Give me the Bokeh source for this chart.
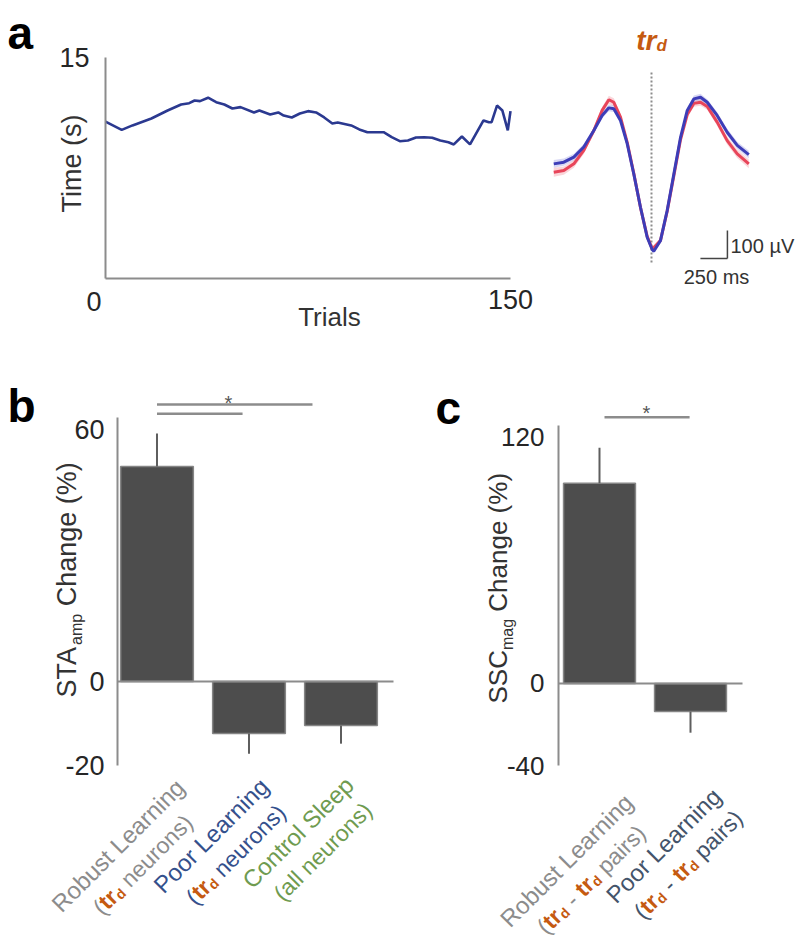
import math
from bokeh.plotting import figure
from bokeh.models import Range1d, FixedTicker, Label, LinearAxis
from bokeh.layouts import column, row
from bokeh.embed import file_html
from bokeh.resources import INLINE

FONT = "Liberation Sans"
INK = "#333333"
AXIS_GRAY = "#8c8c8c"
ORANGE = "#c55a11"

# ---------------- panel a (left): time per trial ----------------
trial = [0, 6, 10, 17, 23, 28, 31, 33, 35, 38, 41, 44, 47, 50, 55, 57, 61, 64, 66, 69,
         72, 75, 78, 81, 84, 86, 91, 94, 97, 103, 106, 109, 112, 115, 118, 121, 124, 127, 129, 132,
         135, 140, 142, 143, 145, 147, 149, 150]
time_s = [10.65, 10.09, 10.39, 10.86, 11.40, 11.81, 11.90, 12.08, 12.04, 12.27, 11.97, 11.81, 11.54, 11.63, 11.27, 11.40, 11.13, 11.27, 11.06, 10.93,
          11.20, 11.36, 11.27, 10.93, 10.52, 10.59, 10.39, 10.12, 9.93, 9.93, 9.59, 9.32, 9.37, 9.57, 9.59, 9.55, 9.37, 9.25, 9.10, 9.64,
          9.10, 10.73, 10.61, 10.61, 11.74, 11.40, 10.05, 11.36]
a_xticks = [0, 150]
a_yticks = [15]

# ---------------- panel a (right): spike waveforms ----------------
wave_t = [-905, -812, -719, -627, -534, -457, -395, -349, -287, -225, -164, -102, -40, 6, 21,
          83, 145, 207, 269, 331, 392, 454, 516, 608, 701, 794, 901]          # ms
wave_blue = [-12, -6, 12, 48, 107, 161, 188, 185, 143, 60, -48, -167, -274, -318, -324,
             -286, -179, -48, 83, 179, 220, 226, 208, 161, 101, 54, 21]        # uV
wave_red = [-42, -36, -12, 36, 107, 179, 217, 208, 155, 65, -46, -168, -271, -315, -312,
            -286, -182, -54, 75, 164, 204, 208, 193, 137, 71, 24, -12]         # uV
sem_blue = [14, 13, 12, 11, 10, 10, 12, 12, 10, 9, 9, 9, 9, 9, 9, 9, 9, 9, 9, 10, 12, 12, 11, 11, 12, 13, 14]
sem_red = [16, 15, 14, 13, 12, 12, 14, 14, 12, 11, 10, 10, 10, 10, 10, 10, 10, 10, 10, 11, 12, 12, 12, 13, 14, 15, 16]
SCALE_T = 250   # ms
SCALE_V = 100   # uV

# ---------------- panel b ----------------
b_groups = ["Robust Learning", "Poor Learning", "Control Sleep"]
b_details = ["(tr_d neurons)", "(tr_d neurons)", "(all neurons)"]
b_colors = ["#8c8c8c", "#34508c", "#6f9b50"]
b_values = [51.2, -12.4, -10.5]
b_errors = [7.9, 4.8, 4.3]
b_yticks = [-20, 0, 60]
b_sig = [(1.0, 2.69, 66.0), (1.0, 1.93, 63.8)]   # (from, to, level)

# ---------------- panel c ----------------
c_groups = ["Robust Learning", "Poor Learning"]
c_details = ["(tr_d - tr_d pairs)", "(tr_d - tr_d pairs)"]
c_colors = ["#8c8c8c", "#44546a"]
c_values = [97.6, -13.7]
c_errors = [17.4, 10.3]
c_yticks = [-40, 0, 120]
c_sig = [(1.055, 1.99, 129.8)]

# ---------------- helpers ----------------
W_REG = {' ': 278, '(': 333, ')': 333, '%': 889, '-': 333, '*': 389, 'a': 556, 'b': 556, 'c': 500,
         'd': 556, 'e': 556, 'f': 278, 'g': 556, 'h': 556, 'i': 222, 'j': 222, 'k': 500, 'l': 222,
         'm': 833, 'n': 556, 'o': 556, 'p': 556, 'q': 556, 'r': 333, 's': 500, 't': 278, 'u': 556,
         'v': 500, 'w': 722, 'x': 500, 'y': 500, 'z': 500, 'A': 667, 'C': 722, 'L': 556, 'P': 667,
         'R': 722, 'S': 667, 'T': 611, 'V': 667, 'µ': 576}
W_BOLD = {' ': 278, '(': 333, ')': 333, '-': 333, 'a': 556, 'd': 611, 'e': 556, 'i': 278, 'l': 278,
          'n': 611, 'o': 611, 'p': 611, 'r': 389, 's': 556, 't': 333, 'u': 611}


def text_w(s, size, style):
    tbl = W_BOLD if "bold" in style else W_REG
    return sum(tbl.get(ch, 556) for ch in s) * size / 1000.0


class Panel:
    """A figure whose frame fills its whole canvas; `inner` gives the page-pixel box
    in which the data ranges xr / yr are shown (the axes are placed at its edges)."""

    def __init__(self, canvas, inner, xr, yr):
        cl, ct, cw, ch = canvas
        fl, ft, fr, fb = inner
        self.fl, self.ft = fl, ft
        self.kx = (xr[1] - xr[0]) / (fr - fl)
        self.ky = (yr[1] - yr[0]) / (fb - ft)
        self.x0, self.y1 = xr[0], yr[1]
        p = figure(width=cw, height=ch,
                   x_range=Range1d(self.X(cl), self.X(cl + cw)),
                   y_range=Range1d(self.Y(ct + ch), self.Y(ct)),
                   output_backend="svg", toolbar_location=None,
                   x_axis_type=None, y_axis_type=None,
                   min_border_left=0, min_border_right=0, min_border_top=0, min_border_bottom=0)
        p.outline_line_color = None
        p.background_fill_color = "white"
        p.border_fill_color = "white"
        self.p = p

    def X(self, px):
        return self.x0 + (px - self.fl) * self.kx

    def Y(self, py):
        return self.y1 - (py - self.ft) * self.ky

    def PX(self, x):
        return self.fl + (x - self.x0) / self.kx

    def label(self, px, py, text, size, color=INK, style="normal", align="left",
              baseline="middle", angle=0.0):
        self.p.add_layout(Label(x=self.X(px), y=self.Y(py), text=text, text_font=FONT,
                                text_font_size=f"{size}px", text_font_style=style,
                                text_color=color, text_align=align, text_baseline=baseline,
                                angle=angle))

    def rich(self, px, py, pieces, deg, anchor="center", baseline="middle"):
        th = math.radians(deg)
        ux, uy = math.cos(th), -math.sin(th)
        nx, ny = math.sin(th), math.cos(th)
        ws = [text_w(t, s, st) for (t, s, st, c, sub) in pieces]
        L = sum(ws)
        if anchor == "center":
            px -= L / 2 * ux
            py -= L / 2 * uy
        acc = 0.0
        for (t, s, st, c, sub), w in zip(pieces, ws):
            lead = len(t) - len(t.lstrip(" "))
            off = acc + text_w(" " * lead, s, st)
            core = t.strip(" ")
            if core:
                self.label(px + off * ux + sub * nx, py + off * uy + sub * ny, core, s, c, st,
                           "left", baseline, th)
            acc += w


def add_axis(p, side, location, bounds, ticks, size=27, standoff=8):
    ax = LinearAxis(fixed_location=location, bounds=bounds, ticker=FixedTicker(ticks=ticks))
    ax.axis_line_color = AXIS_GRAY
    ax.axis_line_width = 2
    ax.major_tick_line_color = None
    ax.minor_tick_line_color = None
    ax.major_label_text_font = FONT
    ax.major_label_text_font_size = f"{size}px"
    ax.major_label_text_color = "#262626"
    ax.major_label_standoff = standoff
    ax.major_label_overrides = {t: str(t) for t in ticks}
    p.add_layout(ax, side)
    return ax


def detail_pieces(s, size, color):
    out = []
    parts = s.split("tr_d")
    for i, part in enumerate(parts):
        if i > 0:
            out.append(("tr", size, "bold", ORANGE, 0))
            out.append(("d", 14, "bold", ORANGE, 5))
        if part:
            out.append((part, size, "normal", color, 0))
    return out


# ================= panel a, line =================
A = Panel((0, 0, 548, 334), (105, 57, 510, 278), (0, 150), (0, 15))
pa = A.p
pa.line(trial, time_s, line_color="#2b3990", line_width=2.6)
add_axis(pa, "below", 0, (0, 150), [t for t in a_xticks if t != 0], 27, 5)
add_axis(pa, "left", 0, (0, 15), a_yticks, 27, 10)
A.label(93.5, 301, str(a_xticks[0]), 27, "#262626", align="center")
A.label(71, 163, "Time (s)", 27, INK, align="center", angle=math.pi / 2)
A.label(329, 316, "Trials", 26, INK, align="center")
A.label(7, 32, "a", 46, "#000000", "bold", baseline="alphabetic")

# ================= panel a, waveform =================
W = Panel((548, 0, 252, 334), (548, 8, 792, 328), (-953.7, 1305.6), (-600, 542.9))
pw = W.p
pw.segment(x0=[0], y0=[-364], x1=[0], y1=[321], line_color="#8c8c8c", line_width=2,
           line_dash="2 2")
pw.varea(x=wave_t, y1=[v - s for v, s in zip(wave_red, sem_red)],
         y2=[v + s for v, s in zip(wave_red, sem_red)], fill_color="#f08a95", fill_alpha=0.35)
pw.varea(x=wave_t, y1=[v - s for v, s in zip(wave_blue, sem_blue)],
         y2=[v + s for v, s in zip(wave_blue, sem_blue)], fill_color="#8f8fe0", fill_alpha=0.35)
pw.line(wave_t, wave_red, line_color="#e8455a", line_width=3)
pw.line(wave_t, wave_blue, line_color="#3d3db8", line_width=3)
corner_t, corner_v = 703, -350
pw.segment(x0=[corner_t - SCALE_T, corner_t], y0=[corner_v, corner_v],
           x1=[corner_t, corner_t], y1=[corner_v, corner_v + SCALE_V],
           line_color="#444444", line_width=1.5)
W.label(730, 245, f"{SCALE_V} µV", 20, INK)
W.label(716, 276, f"{SCALE_T} ms", 20, INK, align="center")
W.rich(651, 40, [("tr", 28, "bold italic", ORANGE, 0), ("d", 17, "bold italic", ORANGE, 5)],
       0, anchor="center", baseline="alphabetic")


# ================= bar panels =================
def bar_panel(P, groups, details, colors, values, errors, yticks, top_bound, sig, tick_size,
              standoff, label_pos, letter_pos, ylabel_pieces, ylabel_start, star_pos):
    p = P.p
    xs = list(range(1, len(values) + 1))
    axis_x = P.X(P.fl)
    p.vbar(x=xs, bottom=0, top=values, width=0.79, fill_color="#4d4d4d",
           line_color="#858585", line_width=1.5)
    ends = [v + (e if v >= 0 else -e) for v, e in zip(values, errors)]
    p.segment(x0=xs, y0=values, x1=xs, y1=ends, line_color="#5e5e5e", line_width=2)
    # zero line: an x axis without ticks, fixed at y = 0
    add_axis(p, "below", 0, (axis_x, xs[-1] + 0.57), [], tick_size, standoff)
    add_axis(p, "left", axis_x, (yticks[0], top_bound), yticks, tick_size, standoff)
    p.segment(x0=[s[0] for s in sig], y0=[s[2] for s in sig], x1=[s[1] for s in sig],
              y1=[s[2] for s in sig], line_color=AXIS_GRAY, line_width=2.5)
    for (sx, sy) in star_pos:
        P.label(sx, sy, "*", 20, "#555555", align="center", baseline="alphabetic")
    # category labels (rotated, two lines, centred)
    for i, (g, d, c) in enumerate(zip(groups, details, colors)):
        rx, cy = label_pos[i]
        cx = P.PX(xs[i]) + rx
        P.rich(cx, cy, [(g, 24, "normal", c, 0)], 45)
        P.rich(cx + 24.7, cy + 19.1, detail_pieces(d, 23, c), 45)
    P.label(letter_pos[0], letter_pos[1], letter_pos[2], 46, "#000000", "bold",
            baseline="alphabetic")
    P.rich(ylabel_start[0], ylabel_start[1], ylabel_pieces, 90, anchor="start")


B = Panel((0, 334, 400, 606), (117, 375, 393, 765), (0.5707, 3.5707), (-20, 72.9))
bar_panel(B, b_groups, b_details, b_colors, b_values, b_errors, b_yticks, 63, b_sig, 27, 7,
          [(-39, 845), (-38, 835), (-43, 832)], (7, 405, "b"),
          [("STA", 27, "normal", INK, 0), ("amp", 16, "normal", INK, 10),
           (" Change (%)", 27, "normal", INK, 0)], (66, 697), [(228, 402.6)])

C = Panel((400, 334, 400, 606), (558, 375, 742, 765), (0.5495, 2.5714), (-40, 150.2))
bar_panel(C, c_groups, c_details, c_colors, c_values, c_errors, c_yticks, 126, c_sig, 26, 8,
          [(-33, 860), (-27, 845)], (435, 407, "c"),
          [("SSC", 26, "normal", INK, 0), ("mag", 16, "normal", INK, 10),
           (" Change (%)", 26, "normal", INK, 0)], (497, 703), [(646, 412.6)])

layout = column(row(pa, pw), row(B.p, C.p))
open("out.html", "w").write(file_html(layout, INLINE))
